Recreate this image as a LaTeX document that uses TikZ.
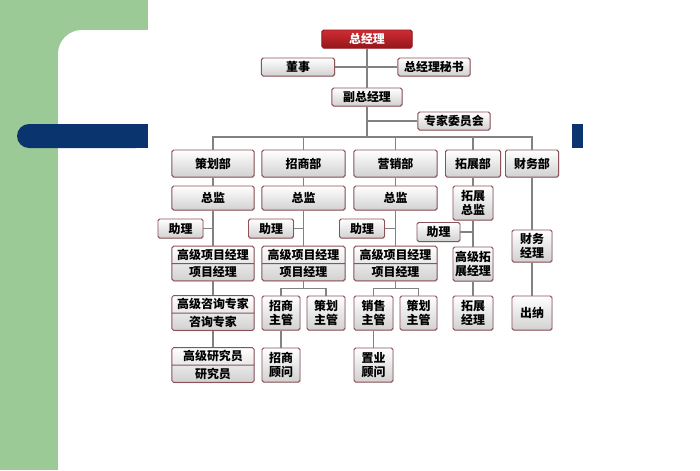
\documentclass[tikz,border=0pt]{standalone}
\usepackage{fontspec}
\newfontfamily\cjk{Noto Sans CJK SC}
\usetikzlibrary{shapes.multipart,shadows,calc}
\definecolor{slidegreen}{RGB}{155,202,150}
\definecolor{slidenavy}{RGB}{10,52,110}
\definecolor{boxborder}{RGB}{140,82,90}
\definecolor{linkgray}{RGB}{130,130,130}
\definecolor{headred}{RGB}{205,45,50}
\definecolor{headdark}{RGB}{150,22,28}

\begin{document}
\begin{tikzpicture}[
  x=0.025cm, y=-0.025cm,
  orgbox/.style={rectangle, draw=boxborder, line width=0.7pt, rounded corners=1.2pt, top color=white, bottom color=black!18, drop shadow={opacity=0.18, shadow xshift=0.7pt, shadow yshift=-0.7pt}, inner sep=1pt, align=center, font=\cjk\bfseries\fontsize{8.5}{10}\selectfont},
  headbox/.style={orgbox, top color=headred, bottom color=headdark, draw=headdark, text=white},
  topbox/.style={orgbox, minimum height=0.45cm},
  deptbox/.style={orgbox, minimum height=0.675cm},
  chiefbox/.style={orgbox, minimum width=2.05cm, minimum height=0.6cm},
  helpbox/.style={orgbox, minimum width=1.125cm, minimum height=0.475cm},
  splitbox/.style={orgbox, rectangle split, rectangle split parts=2, minimum width=2.05cm, inner ysep=1.7pt},
  narrowbox/.style={orgbox, minimum width=1cm, minimum height=0.85cm},
  link/.style={draw=linkgray, line width=0.8pt}
]
\useasboundingbox (0,0) rectangle (700,470);

% Slide background
\fill[slidegreen] (0,0) rectangle (148,470);
\fill[white, rounded corners=0.6cm] (58,30) rectangle (760,530);
\fill[slidenavy, rounded corners=0.3cm] (17,124) rectangle (148,148);
\fill[slidenavy] (130,124) rectangle (148,148);
\fill[slidenavy] (572,124) rectangle (583,148);

% Top management
\node[headbox, minimum width=2.25cm, minimum height=0.45cm] (gm) at (367,39) {总经理};
\node[topbox, minimum width=1.825cm] (ds) at (298,67) {董事};
\node[topbox, minimum width=1.8cm] (ms) at (434,67) {总经理秘书};
\node[topbox, minimum width=1.75cm] (fgm) at (367,97) {副总经理};
\node[topbox, minimum width=1.8cm] (zjw) at (454,121) {专家委员会};
\coordinate (bus) at (367,137);

% Departments
\node[deptbox, minimum width=2.05cm] (chb) at (213,163.5) {策划部};
\node[deptbox, minimum width=2.075cm] (zsb) at (303.5,163.5) {招商部};
\node[deptbox, minimum width=2.075cm] (yxb) at (395.5,163.5) {营销部};
\node[deptbox, minimum width=1.375cm] (tzb) at (473,163.5) {拓展部};
\node[deptbox, minimum width=1.325cm] (cwb) at (532,163.5) {财务部};

% Directors
\node[chiefbox] (cz1) at (213,198) {总监};
\node[chiefbox, minimum width=2.075cm] (cz2) at (303.5,198) {总监};
\node[chiefbox, minimum width=2.075cm] (cz3) at (395.5,198) {总监};
\node[narrowbox] (tzzj) at (473,203) {拓展\\总监};

% Assistants
\node[helpbox] (zl1) at (180.5,228.5) {助理};
\node[helpbox] (zl2) at (271,228.5) {助理};
\node[helpbox] (zl3) at (362,228.5) {助理};
\node[helpbox, minimum width=1.075cm] (zl4) at (438.5,232) {助理};

% Project managers
\node[splitbox] (pm1) at (213,263.5) {高级项目经理\nodepart{two}项目经理};
\node[splitbox, minimum width=2.075cm] (pm2) at (303.5,263.5) {高级项目经理\nodepart{two}项目经理};
\node[splitbox, minimum width=2.075cm] (pm3) at (395.5,263.5) {高级项目经理\nodepart{two}项目经理};
\node[narrowbox] (tzgj) at (473,264) {高级拓\\展经理};
\node[narrowbox, minimum height=0.8cm] (cwjl) at (532,246) {财务\\经理};

% Third row
\node[splitbox] (zx) at (213,313) {高级咨询专家\nodepart{two}咨询专家};
\node[narrowbox, minimum width=0.95cm] (zsg) at (281,313) {招商\\主管};
\node[narrowbox, minimum width=0.95cm] (chg) at (326,313) {策划\\主管};
\node[narrowbox, minimum width=0.975cm] (xsg) at (373.5,313) {销售\\主管};
\node[narrowbox, minimum width=0.925cm] (chg2) at (418.5,313) {策划\\主管};
\node[narrowbox] (tzjl) at (473,313) {拓展\\经理};
\node[narrowbox] (cn) at (532,313) {出纳};

% Fourth row
\node[splitbox] (yjy) at (213,365) {高级研究员\nodepart{two}研究员};
\node[narrowbox, minimum width=0.95cm] (zsgw) at (281,365) {招商\\顾问};
\node[narrowbox, minimum width=0.975cm] (zygw) at (373.5,365) {置业\\顾问};

% Connectors
\draw[link] (gm.south) -- (fgm.north);
\draw[link] (ds.east) -- (ds.east -| gm.south);
\draw[link] (ms.west) -- (ms.west -| gm.south);
\draw[link] (fgm.south) -- (bus);
\draw[link] (zjw.west) -- (zjw.west -| fgm.south);
\draw[link] (chb.north) |- (bus) -| (cwb.north);
\foreach \d in {zsb,yxb,tzb}
  \draw[link] (\d.north) -- (\d.north |- bus);

\foreach \a/\b in {chb/cz1, cz1/pm1, pm1/zx, zx/yjy, zsb/cz2, cz2/pm2, zsg/zsgw,
                   yxb/cz3, cz3/pm3, xsg/zygw, tzb/tzzj, tzzj/tzgj, tzgj/tzjl,
                   cwb/cwjl, cwjl/cn}
  \draw[link] (\a.south) -- (\b.north);

\foreach \z/\c in {zl1/cz1, zl2/cz2, zl3/cz3, zl4/tzzj}
  \draw[link] (\z.east) -- (\z.east -| \c.south);

\draw[link] (pm2.south) -- ++(0,7) coordinate (br2);
\draw[link] (zsg.north) |- (br2) -| (chg.north);
\draw[link] (pm3.south) -- ++(0,7) coordinate (br3);
\draw[link] (xsg.north) |- (br3) -| (chg2.north);

\end{tikzpicture}
\end{document}
